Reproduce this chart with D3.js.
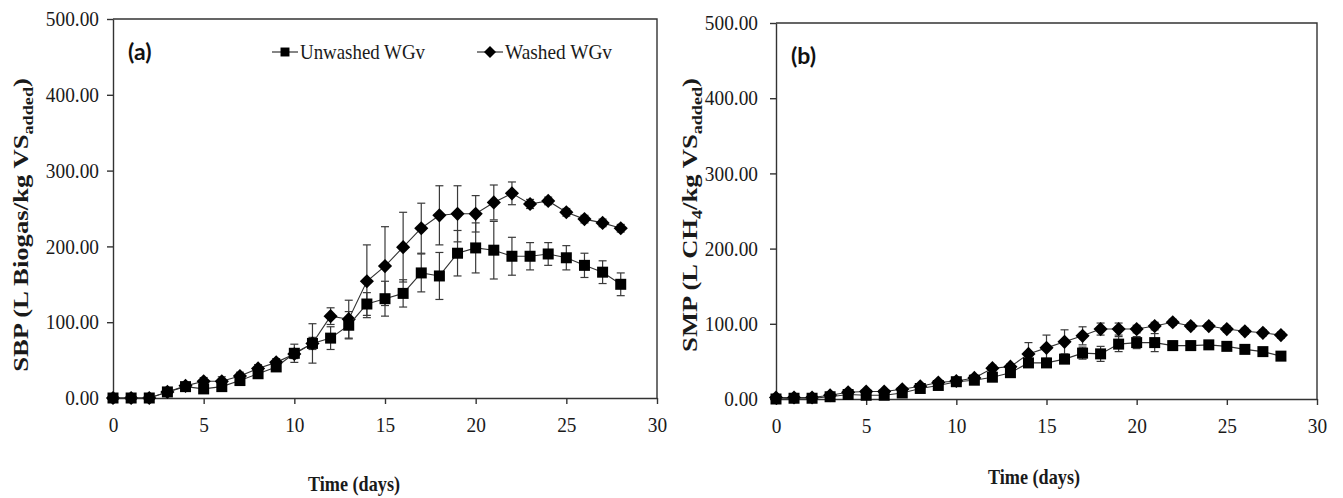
<!DOCTYPE html>
<html>
<head>
<meta charset="utf-8">
<script src="https://cdn.jsdelivr.net/npm/d3@7/dist/d3.min.js"></script>
<style>
  body { margin: 0; background: #fff; }
  svg { display: block; }
</style>
</head>
<body>
<svg id="chart" width="1343" height="498"></svg>
<script>
// Incubation day of each measurement
const days = [0, 1, 2, 3, 4, 5, 6, 7, 8, 9, 10, 11, 12, 13, 14, 15, 16, 17, 18, 19, 20, 21, 22, 23, 24, 25, 26, 27, 28];

// (a) Specific biogas production, L biogas / kg VS added
const sbpUnwashed    = [0, 0, 0, 8, 15, 12, 15, 23, 32, 41, 59, 72, 79, 96, 124, 131, 138, 165, 161, 191, 198, 195, 187, 187, 190, 185, 175, 166, 150];
const sbpUnwashedErr = [1, 1, 1, 3, 4, 4, 4, 4, 4, 4, 12, 26, 15, 18, 15, 23, 18, 25, 31, 30, 33, 38, 25, 18, 15, 16, 16, 15, 15];
const sbpWashed      = [0, 0, 0, 8, 16, 22, 22, 29, 39, 47, 58, 72, 108, 104, 154, 174, 199, 224, 241, 243, 243, 258, 270, 256, 260, 245, 236, 231, 224];
const sbpWashedErr   = [1, 1, 1, 3, 4, 5, 6, 5, 5, 5, 6, 8, 11, 25, 48, 52, 46, 33, 39, 37, 24, 23, 15, 6, 5, 5, 5, 5, 5];

// (b) Specific methane production, L CH4 / kg VS added
const smpUnwashed    = [0, 1, 1, 3, 6, 5, 5, 8, 14, 18, 23, 25, 29, 35, 48, 48, 53, 61, 60, 73, 75, 75, 71, 71, 72, 70, 66, 63, 57];
const smpUnwashedErr = [2, 2, 2, 2, 2, 2, 2, 2, 3, 3, 4, 5, 5, 5, 5, 6, 5, 8, 10, 10, 8, 12, 6, 6, 4, 4, 4, 4, 4];
const smpWashed      = [2, 2, 2, 5, 9, 10, 10, 13, 17, 22, 24, 28, 41, 43, 60, 68, 76, 84, 93, 93, 93, 97, 102, 97, 97, 93, 90, 88, 85];
const smpWashedErr   = [2, 2, 2, 2, 2, 2, 2, 3, 3, 3, 4, 4, 4, 4, 15, 17, 16, 12, 8, 8, 5, 5, 4, 4, 4, 4, 4, 4, 4];

// Axis ticks and legend entries
const xTicks = [0, 5, 10, 15, 20, 25, 30];
const yTicks = [0, 100, 200, 300, 400, 500];
const seriesNames = ["Unwashed WGv", "Washed WGv"];

const svg = d3.select("#chart");
const serif = "'Liberation Serif', 'Times New Roman', serif";
const ink = "#1a1a1a";

// Squeeze a text element horizontally by a factor, keeping its anchor
function condense(sel, k) {
  sel.each(function () {
    const w = this.getComputedTextLength();
    d3.select(this).attr("textLength", w * k).attr("lengthAdjust", "spacingAndGlyphs");
  });
}

// Diamond marker with equal half-width and half-height
const diamondType = {
  draw(ctx, size) {
    const r = Math.sqrt(size / 2);
    ctx.moveTo(0, -r); ctx.lineTo(r, 0); ctx.lineTo(0, r); ctx.lineTo(-r, 0); ctx.closePath();
  }
};
const squareSym = d3.symbol().type(d3.symbolSquare).size(121);
const diamondSym = d3.symbol().type(diamondType).size(100);

function drawPanel(cfg) {
  const x = d3.scaleLinear().domain([0, 30]).range([cfg.left, cfg.right]);
  const y = d3.scaleLinear().domain([0, 500]).range([cfg.bottom, cfg.top]);
  const g = svg.append("g");

  // top and right frame lines
  g.append("path")
    .attr("d", `M${cfg.left},${cfg.top}H${cfg.right}V${cfg.bottom}`)
    .attr("fill", "none").attr("stroke", "#333").attr("stroke-width", 1.4);

  const yAxis = g.append("g")
    .attr("transform", `translate(${cfg.left},0)`)
    .call(d3.axisLeft(y).tickValues(yTicks).tickFormat(d3.format(".2f"))
      .tickSize(6).tickSizeOuter(0).tickPadding(cfg.yPad));
  const xAxis = g.append("g")
    .attr("transform", `translate(0,${cfg.bottom})`)
    .call(d3.axisBottom(x).tickValues(xTicks).tickSize(6).tickSizeOuter(0).tickPadding(13));
  [yAxis, xAxis].forEach(a => {
    a.selectAll("path, line").attr("stroke", "#333").attr("stroke-width", 1.4);
    a.selectAll("text").attr("font-family", serif).attr("font-size", 21).attr("fill", ink);
    condense(a.selectAll("text"), 0.92);
  });

  // series: washed drawn first so the unwashed squares sit on top
  const series = [
    { vals: cfg.washed, err: cfg.washedErr, sym: diamondSym },
    { vals: cfg.unwashed, err: cfg.unwashedErr, sym: squareSym }
  ];
  const line = d3.line().x((d, i) => x(days[i])).y(d => y(d));
  series.forEach(s => {
    const eb = g.append("g").attr("stroke", "#3a3a3a").attr("stroke-width", 1.2);
    days.forEach((d, i) => {
      const cx = x(d), y1 = y(s.vals[i] + s.err[i]), y0 = y(s.vals[i] - s.err[i]);
      eb.append("line").attr("x1", cx).attr("x2", cx).attr("y1", y0).attr("y2", y1);
      eb.append("line").attr("x1", cx - 4).attr("x2", cx + 4).attr("y1", y1).attr("y2", y1);
      eb.append("line").attr("x1", cx - 4).attr("x2", cx + 4).attr("y1", y0).attr("y2", y0);
    });
  });
  series.forEach(s => {
    g.append("path").datum(s.vals).attr("d", line)
      .attr("fill", "none").attr("stroke", "#333").attr("stroke-width", 1.1);
    g.append("g").selectAll("path").data(s.vals).join("path")
      .attr("transform", (d, i) => `translate(${x(days[i])},${y(d)})`)
      .attr("d", s.sym()).attr("fill", "#000");
  });

  // panel letter
  g.append("text").attr("x", cfg.left + 15).attr("y", cfg.top + 41)
    .attr("font-family", "Lato, 'Open Sans', sans-serif").attr("font-weight", 700)
    .attr("font-size", 23).attr("fill", "#111").text(cfg.letter);

  // x axis title
  g.append("text").attr("x", cfg.xTitleX).attr("y", cfg.xTitleY)
    .attr("text-anchor", "middle").attr("font-family", serif).attr("font-weight", 700)
    .attr("font-size", 22).attr("fill", ink)
    .attr("textLength", 92).attr("lengthAdjust", "spacingAndGlyphs")
    .text("Time (days)");

  // y axis title, stretched along its length to the span it covers
  const yt = g.append("text")
    .attr("text-anchor", "middle").attr("font-family", serif).attr("font-weight", 700)
    .attr("font-size", 22).attr("fill", ink);
  cfg.yTitle(yt);
  const k = cfg.yTitleLen / yt.node().getBBox().width;
  yt.attr("transform", `translate(${cfg.yTitleX},${cfg.yTitleY}) rotate(-90) scale(${k},1)`);

  return { x, y, g };
}

drawPanel({
  left: 113, right: 657, top: 19, bottom: 398, yPad: 8, letter: "(a)",
  unwashed: sbpUnwashed, unwashedErr: sbpUnwashedErr, washed: sbpWashed, washedErr: sbpWashedErr,
  xTitleX: 354, xTitleY: 491, yTitleX: 28, yTitleY: 225, yTitleLen: 294,
  yTitle: t => {
    t.append("tspan").text("SBP (L  Biogas/kg VS");
    t.append("tspan").attr("font-size", 15).attr("dy", 5).text("added");
    t.append("tspan").attr("dy", -5).text(")");
  }
});

drawPanel({
  left: 776, right: 1317, top: 23, bottom: 399, yPad: 12, letter: "(b)",
  unwashed: smpUnwashed, unwashedErr: smpUnwashedErr, washed: smpWashed, washedErr: smpWashedErr,
  xTitleX: 1034, xTitleY: 484, yTitleX: 697, yTitleY: 215, yTitleLen: 274,
  yTitle: t => {
    t.append("tspan").text("SMP  (L CH");
    t.append("tspan").attr("font-size", 15).attr("dy", 5).text("4");
    t.append("tspan").attr("dy", -5).text("/kg VS");
    t.append("tspan").attr("font-size", 15).attr("dy", 5).text("added");
    t.append("tspan").attr("dy", -5).text(")");
  }
});

// legend inside panel (a)
const legend = svg.append("g").attr("font-family", serif).attr("font-size", 21).attr("fill", ink);
const legendItems = [
  { name: seriesNames[0], sym: squareSym, size: 80, x0: 272, len: 125 },
  { name: seriesNames[1], sym: diamondSym, size: 72, x0: 477, len: 107 }
];
legendItems.forEach(it => {
  const ly = 52;
  legend.append("line").attr("x1", it.x0).attr("x2", it.x0 + 26).attr("y1", ly).attr("y2", ly)
    .attr("stroke", "#333").attr("stroke-width", 1.2);
  legend.append("path").attr("transform", `translate(${it.x0 + 13},${ly})`)
    .attr("d", it.sym.size(it.size)()).attr("fill", "#000");
  legend.append("text").attr("x", it.x0 + 28).attr("y", ly + 7)
    .attr("textLength", it.len).attr("lengthAdjust", "spacingAndGlyphs").text(it.name);
});
</script>
</body>
</html>
